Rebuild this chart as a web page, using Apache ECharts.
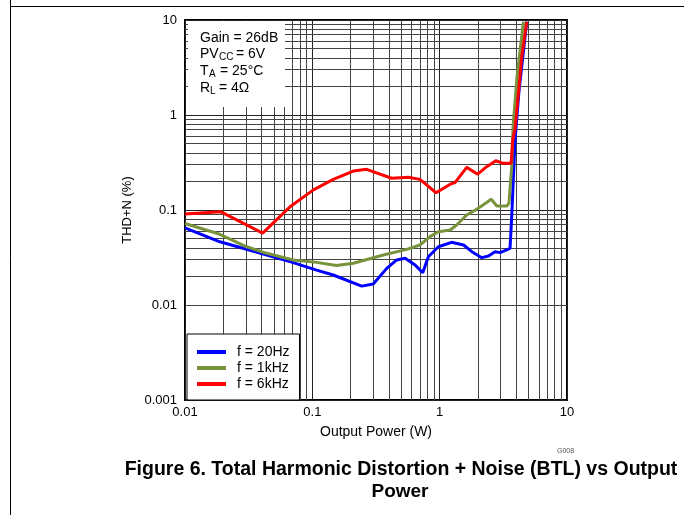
<!DOCTYPE html>
<html><head><meta charset="utf-8">
<script src="https://cdn.jsdelivr.net/npm/echarts@6/dist/echarts.min.js"></script>
<style>html,body{margin:0;padding:0;background:#fff}#c{width:684px;height:515px}</style>
</head><body><div id="c"></div>
<script>
// Data (Output Power in W, THD+N in %)
var p20Hz = [0.01, 0.0188, 0.0412, 0.0668, 0.108, 0.146, 0.244, 0.301, 0.384, 0.46, 0.535, 0.641, 0.736, 0.815, 0.977, 1.24, 1.54, 1.79, 2.14, 2.42, 2.72, 2.98, 3.57, 3.68, 3.91, 4.2, 4.83];
var thd20Hz = [0.065, 0.0463, 0.0344, 0.0286, 0.0233, 0.0207, 0.0158, 0.0166, 0.0243, 0.0298, 0.031, 0.0264, 0.0219, 0.0322, 0.041, 0.0457, 0.0428, 0.0364, 0.0315, 0.0328, 0.0364, 0.0356, 0.0395, 0.085, 0.545, 1.8, 9.6];
var p1kHz = [0.01, 0.0188, 0.0305, 0.0438, 0.071, 0.108, 0.155, 0.21, 0.361, 0.551, 0.70, 0.84, 0.977, 1.21, 1.36, 1.63, 2.01, 2.54, 2.81, 3.37, 3.50, 3.68, 3.77, 4.05, 4.55];
var thd1kHz = [0.072, 0.0555, 0.041, 0.035, 0.0298, 0.0281, 0.026, 0.0275, 0.0336, 0.0385, 0.0428, 0.0524, 0.059, 0.0616, 0.0695, 0.0886, 0.104, 0.13, 0.110, 0.110, 0.118, 0.286, 0.753, 2.53, 9.6];
var p6kHz = [0.01, 0.019, 0.0407, 0.0668, 0.102, 0.146, 0.21, 0.267, 0.42, 0.568, 0.70, 0.937, 1.21, 1.32, 1.63, 1.99, 2.34, 2.76, 3.16, 3.64, 3.75, 3.91, 4.15, 4.41, 4.83];
var thd6kHz = [0.091, 0.096, 0.057, 0.108, 0.163, 0.21, 0.257, 0.268, 0.216, 0.221, 0.21, 0.152, 0.187, 0.194, 0.281, 0.238, 0.286, 0.33, 0.31, 0.31, 0.55, 0.72, 1.69, 4.11, 9.6];
var seriesNames = ['f = 20Hz', 'f = 1kHz', 'f = 6kHz'];
var xTickLabels = ['0.01', '0.1', '1', '10'];
var yTickLabels = ['0.001', '0.01', '0.1', '1', '10'];
var xDecades = [0.01, 0.1, 1];
var yDecades = [0.001, 0.01, 0.1, 1];
var minorSteps = [2, 3, 4, 5, 6, 7, 8, 9];

function zip(a, b) { return a.map(function (v, i) { return [v, b[i]]; }); }
var minorX = [], minorY = [];
xDecades.forEach(function (d) { minorSteps.forEach(function (k) { minorX.push({ xAxis: +(d * k).toPrecision(3) }); }); });
yDecades.forEach(function (d) { minorSteps.forEach(function (k) { minorY.push({ yAxis: +(d * k).toPrecision(3) }); }); });

var font = 'Liberation Sans, Arial, sans-serif';
var chart = echarts.init(document.getElementById('c'), null, { renderer: 'canvas' });
function fmt(list) { return function (v) { var s = String(+v.toPrecision(3)); return list.indexOf(s) >= 0 ? s : ''; }; }
function txt(x, y, s, size, extra) {
  var o = { type: 'text', z: 51, x: x, y: y, style: { text: s, font: (extra || '') + size + 'px ' + font, fill: '#000' } };
  return o;
}

chart.setOption({
  animation: false,
  backgroundColor: '#fff',
  grid: { left: 185, right: 117, top: 20, bottom: 115, show: true, borderColor: '#000', borderWidth: 2, backgroundColor: 'transparent' },
  xAxis: {
    type: 'log', logBase: 10, min: 0.01, max: 10,
    name: 'Output Power (W)', nameLocation: 'middle', nameGap: 25,
    nameTextStyle: { fontFamily: font, fontSize: 14, color: '#000' },
    axisLine: { show: false }, axisTick: { show: false },
    axisLabel: { fontFamily: font, fontSize: 13, color: '#000', margin: 6, formatter: fmt(xTickLabels) },
    splitLine: { show: true, lineStyle: { color: '#222', width: 1 } }
  },
  yAxis: {
    type: 'log', logBase: 10, min: 0.001, max: 10,
    name: 'THD+N (%)', nameLocation: 'middle', nameGap: 50, nameRotate: 90,
    nameTextStyle: { fontFamily: font, fontSize: 13, color: '#000' },
    axisLine: { show: false }, axisTick: { show: false },
    axisLabel: { fontFamily: font, fontSize: 13, color: '#000', margin: 8, formatter: fmt(yTickLabels) },
    splitLine: { show: true, lineStyle: { color: '#222', width: 1 } }
  },
  legend: {
    data: seriesNames, orient: 'vertical', left: 187, top: 334, z: 20,
    backgroundColor: '#fff', borderColor: '#000', borderWidth: 1,
    padding: [10, 10, 8, 10], itemGap: 0, itemWidth: 29, itemHeight: 4,
    icon: 'rect',
    textStyle: { fontFamily: font, fontSize: 14, lineHeight: 16, color: '#000', padding: [0, 0, 0, 6] },
    selectedMode: false
  },
  graphic: [
    { type: 'rect', z: 50, shape: { x: 188, y: 21, width: 97, height: 86 }, style: { fill: '#fff' } },
    txt(200, 31, 'Gain = 26dB', 14),
    txt(200, 47, 'PV', 14), txt(219, 52, 'CC', 10), txt(236, 47, '= 6V', 14),
    txt(200, 64, 'T', 14), txt(209, 69, 'A', 10), txt(220, 64, '= 25°C', 14),
    txt(200, 81, 'R', 14), txt(210, 86, 'L', 10), txt(219, 81, '= 4Ω', 14),
    { type: 'text', z: 51, x: 557, y: 448, style: { text: 'G008', font: '7px ' + font, fill: '#555' } },
    { type: 'text', z: 51, x: 401, y: 460, style: { text: 'Figure 6. Total Harmonic Distortion + Noise (BTL) vs Output', font: 'bold 19.5px ' + font, fill: '#000', align: 'center' } },
    { type: 'text', z: 51, x: 400, y: 482, style: { text: 'Power', font: 'bold 19px ' + font, fill: '#000', align: 'center' } },
    { type: 'line', z: 51, shape: { x1: 10.5, y1: 0, x2: 10.5, y2: 515 }, style: { stroke: '#000', lineWidth: 1 } },
    { type: 'line', z: 51, shape: { x1: 10, y1: 6.5, x2: 684, y2: 6.5 }, style: { stroke: '#000', lineWidth: 1 } }
  ],
  series: [
    {
      name: '_grid', type: 'line', data: [], silent: true, z: 1,
      markLine: { silent: true, z: 1, symbol: ['none', 'none'], label: { show: false }, animation: false,
        lineStyle: { color: '#444', width: 1, type: 'solid' }, data: minorX.concat(minorY) }
    },
    { name: seriesNames[0], type: 'line', data: zip(p20Hz, thd20Hz), showSymbol: false, z: 3, lineStyle: { color: '#0000ff', width: 3 }, itemStyle: { color: '#0000ff' } },
    { name: seriesNames[1], type: 'line', data: zip(p1kHz, thd1kHz), showSymbol: false, z: 4, lineStyle: { color: '#77933c', width: 3 }, itemStyle: { color: '#77933c' } },
    { name: seriesNames[2], type: 'line', data: zip(p6kHz, thd6kHz), showSymbol: false, z: 5, lineStyle: { color: '#ff0000', width: 3 }, itemStyle: { color: '#ff0000' } }
  ]
});
</script></body></html>
